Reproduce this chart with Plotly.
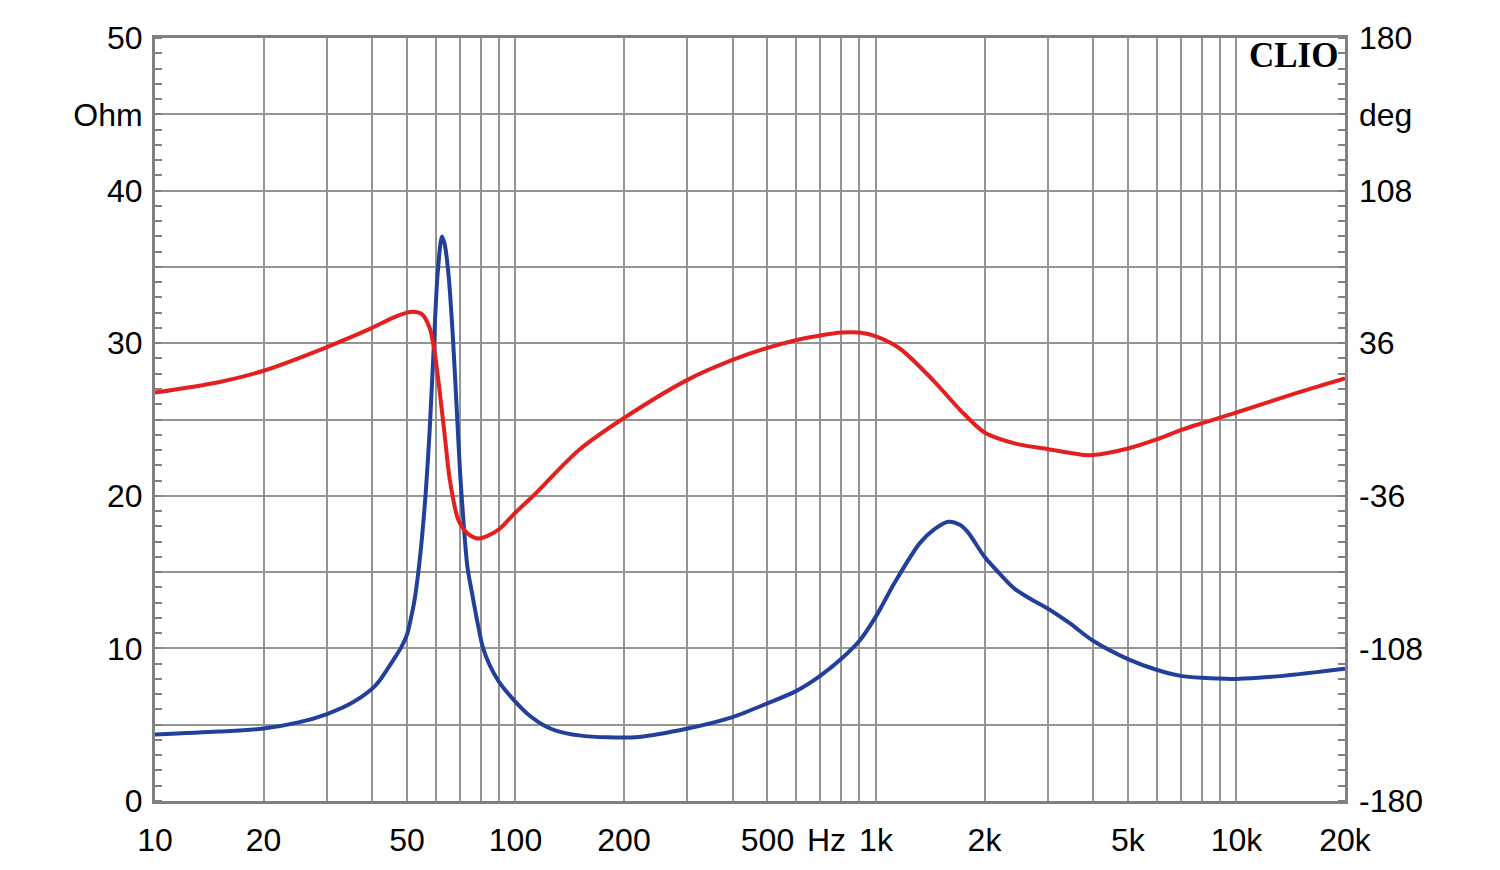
import plotly.graph_objects as go

# Impedance magnitude (Ohm) - blue
imp_freq = [10, 15, 20, 25, 30, 35, 40, 42, 44, 46, 48, 50, 51.2, 52.5, 53.7, 55.0, 56.4,
            57.8, 59.2, 60.8, 62.5, 63.6, 65.2, 67.0, 68.6, 70.2, 71.9, 73.6, 76.2,
            78.6, 81.1, 84.8, 90, 100, 110, 120, 130, 150, 180, 220, 300, 400, 500,
            600, 700, 800, 900, 1000, 1050, 1126, 1323, 1450, 1587, 1708, 1800,
            2000, 2203, 2427, 2700, 3000, 3446, 4000, 5000, 6000, 7000, 8000, 10000,
            13500, 20000]
imp_ohm = [4.36, 4.55, 4.75, 5.15, 5.7, 6.4, 7.35, 7.9, 8.6, 9.3, 10.0, 10.9, 11.9, 13.2,
           14.9, 17.2, 20.3, 24.3, 29.3, 34.5, 37.0, 36.5, 34.5, 30.5, 26.0, 21.5, 18.0,
           15.3, 13.3, 11.6, 10.1, 8.9, 7.8, 6.5, 5.55, 4.95, 4.6, 4.3, 4.17, 4.2, 4.75,
           5.5, 6.4, 7.2, 8.2, 9.3, 10.5, 12.1, 13.0, 14.3, 16.9, 17.8, 18.3, 18.1,
           17.6, 16.0, 14.9, 13.9, 13.2, 12.6, 11.65, 10.5, 9.3, 8.6, 8.2, 8.07, 8.0,
           8.2, 8.66]

# Phase (deg) - red
ph_freq = [10, 15, 20, 30, 40, 45, 50, 51.9, 55.0, 57.8, 59.6, 61.5, 63.6, 65.7, 69.2,
           72, 74.9, 79.1, 84, 90, 100, 112, 150, 200, 300, 400, 500, 600, 700, 800, 900,
           1000, 1164, 1437, 1708, 2000, 2455, 3000, 3800, 4000, 5000, 6000, 7000, 8000,
           9000, 10000, 15000, 20000]
ph_deg = [12.7, 17.6, 23.0, 34.2, 43.2, 47.5, 50.4, 50.8, 49.7, 43.2, 32.4, 14.4, -7.2,
          -28.1, -46.8, -52.0, -54.7, -56.2, -54.8, -51.8, -43.9, -36.0, -14.4, 0.7, 18.7,
          28.1, 33.8, 37.4, 39.6, 41.0, 41.0, 39.2, 33.5, 18.7, 4.7, -6.1, -11.5, -14.0,
          -16.8, -16.8, -13.7, -9.4, -5.0, -1.8, 0.9, 3.3, 13.0, 19.4]

# Axis ticks
x_grid = [m * 10 ** e for e in range(1, 5) for m in range(1, 10)] + [20000]
x_label_map = {10: "10", 20: "20", 50: "50", 100: "100", 200: "200", 500: "500",
               1000: "1k", 2000: "2k", 5000: "5k", 10000: "10k", 20000: "20k"}
x_text = [x_label_map.get(v, "") for v in x_grid]

y_vals = [0, 5, 10, 15, 20, 25, 30, 35, 40, 45, 50]
y_text = ["0", "", "10", "", "20", "", "30", "", "40", "Ohm", "50"]
y2_vals = [-180, -144, -108, -72, -36, 0, 36, 72, 108, 144, 180]
y2_text = ["-180", "", "-108", "", "-36", "", "36", "", "108", "deg", "180"]

FONT = "Liberation Sans, Arial, sans-serif"
GRID = "#959595"
FRAME = "#808080"

fig = go.Figure()
fig.add_trace(go.Scatter(x=imp_freq, y=imp_ohm, mode="lines",
                         line=dict(color="#22409a", width=4, shape="spline", smoothing=0.8),
                         showlegend=False, hoverinfo="skip"))
fig.add_trace(go.Scatter(x=ph_freq, y=ph_deg, mode="lines", yaxis="y2",
                         line=dict(color="#e3201f", width=4, shape="spline", smoothing=0.8),
                         showlegend=False, hoverinfo="skip"))

fig.update_layout(
    width=1500, height=870,
    margin=dict(l=147, r=163, t=25, b=77),
    paper_bgcolor="white", plot_bgcolor="white",
    font=dict(family=FONT, size=32, color="black"),
    xaxis=dict(type="log", range=[1, 4.30103], tickmode="array", tickvals=x_grid,
               ticktext=x_text, showgrid=True, gridcolor=GRID, gridwidth=1.6,
               showline=True, linecolor=FRAME, linewidth=3, mirror=True,
               ticks="", ticklabelstandoff=9, zeroline=False),
    yaxis=dict(range=[0, 50], tickmode="array", tickvals=y_vals, ticktext=y_text,
               showgrid=True, gridcolor=GRID, gridwidth=1.6,
               showline=True, linecolor=FRAME, linewidth=3, mirror=True,
               ticks="", ticklabelstandoff=3, zeroline=False,
               minor=dict(dtick=1, tick0=0, ticks="inside", ticklen=7,
                          tickcolor=FRAME, tickwidth=2, showgrid=False)),
    yaxis2=dict(range=[-180, 180], overlaying="y", side="right", tickmode="array",
                tickvals=y2_vals, ticktext=y2_text, showgrid=False, zeroline=False,
                showline=False, ticks="", ticklabelstandoff=13,
                minor=dict(dtick=7.2, tick0=-180, ticks="inside", ticklen=7,
                           tickcolor=FRAME, tickwidth=2, showgrid=False)),
)

fig.add_annotation(text="Hz", x=2.8636, xref="x", y=0, yref="paper", yanchor="top",
                   yshift=-19, showarrow=False, font=dict(family=FONT, size=32, color="black"))
fig.add_annotation(text="<b>CLIO</b>", x=0.9958, xref="paper", xanchor="right",
                   y=0.9766, yref="paper", yanchor="middle", showarrow=False,
                   font=dict(family="Liberation Serif, serif", size=35, color="black"))

fig.write_html("out.html")
